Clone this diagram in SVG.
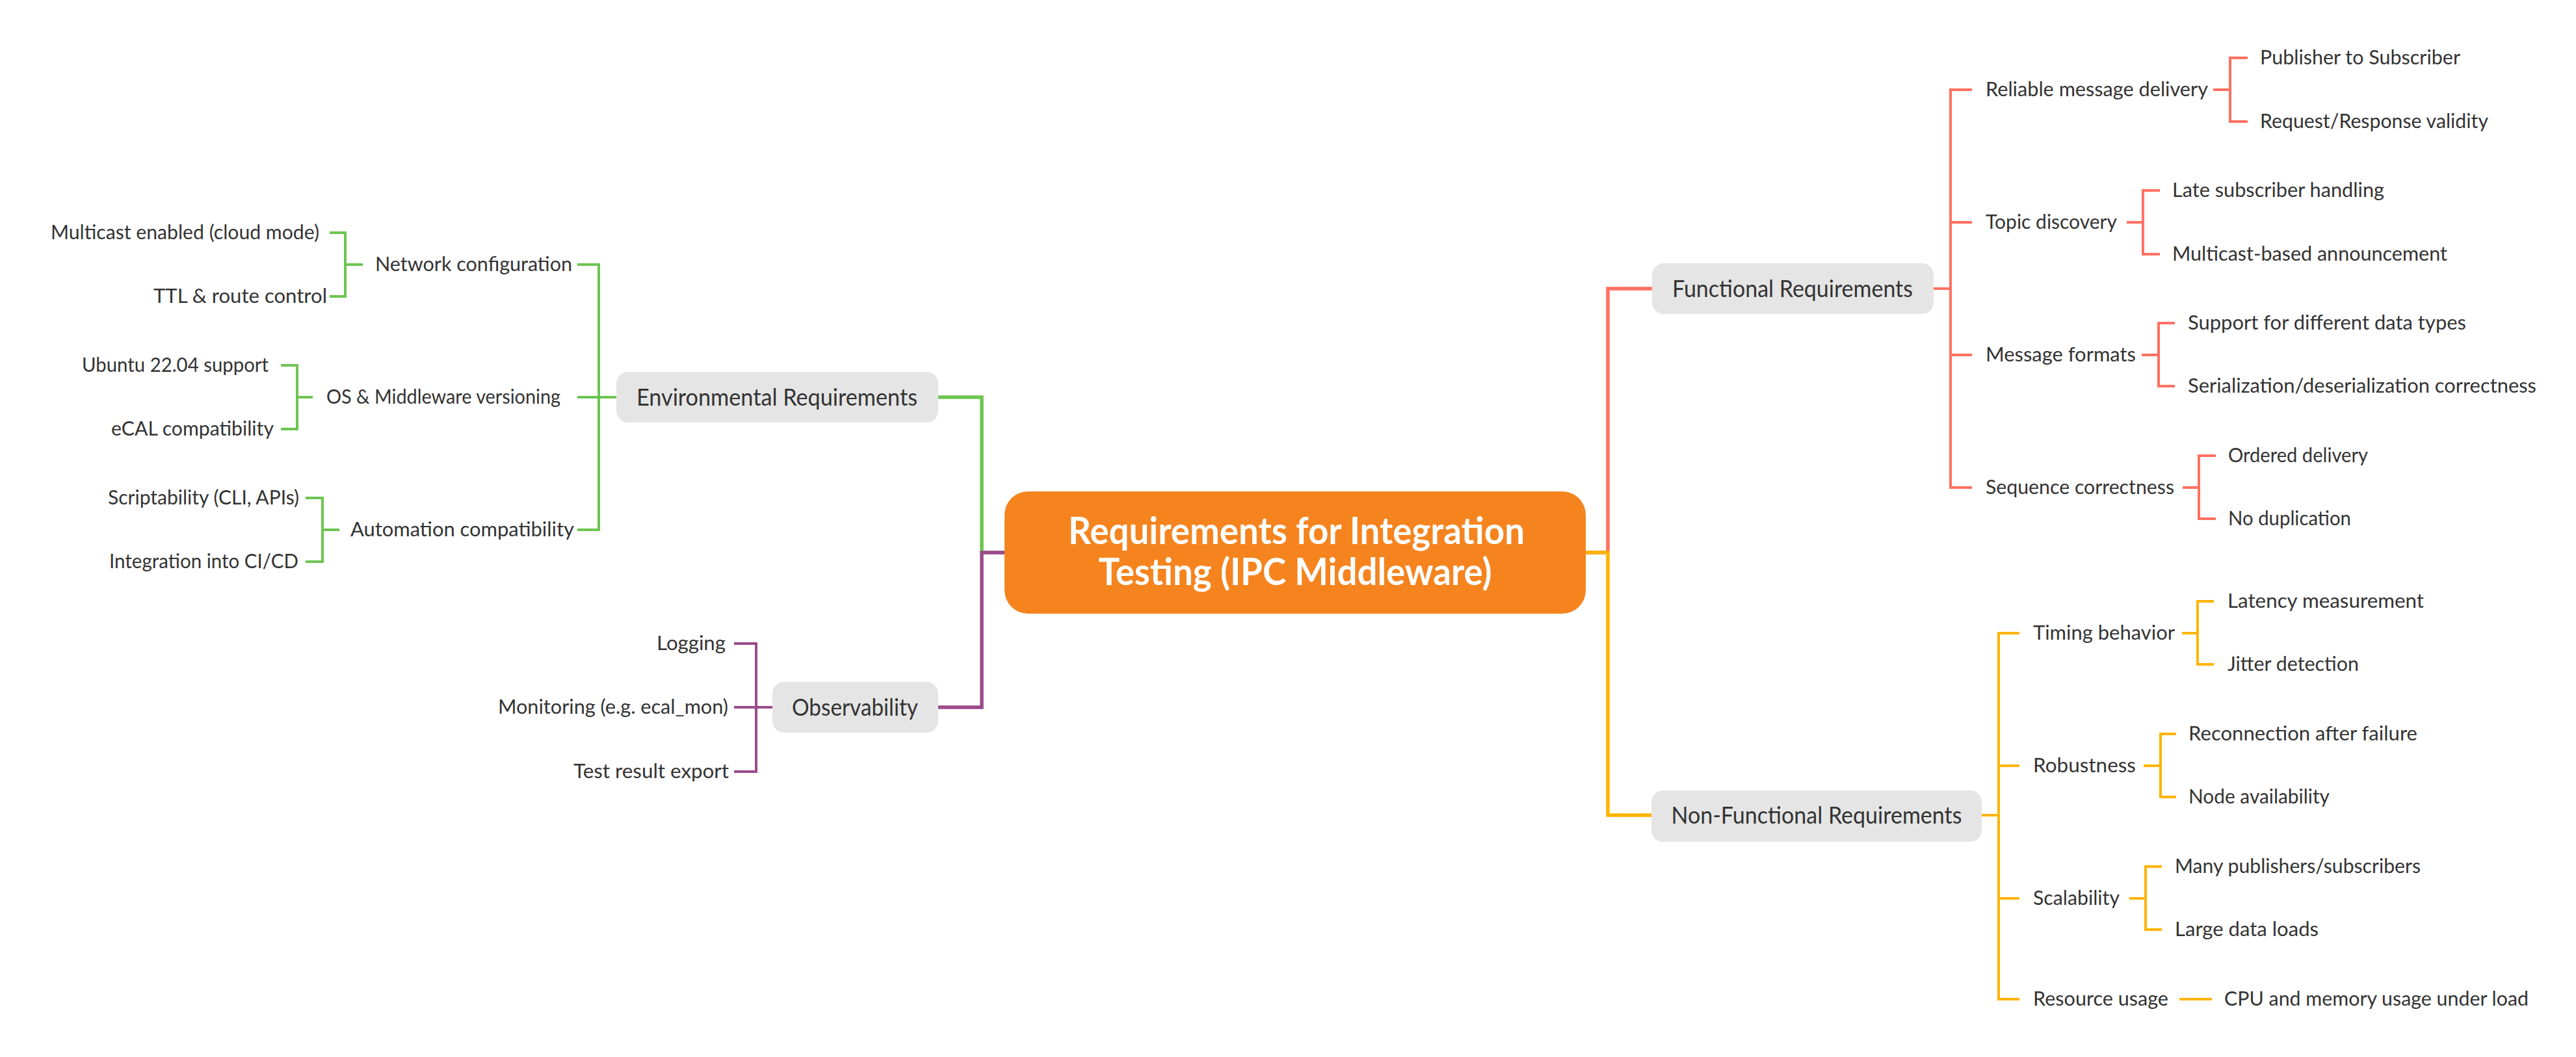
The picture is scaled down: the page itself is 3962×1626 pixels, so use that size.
<svg xmlns="http://www.w3.org/2000/svg" width="3962" height="1626" viewBox="0 0 3962 1626">
<style>
.bg{fill:#ffffff}
.c{fill:none;stroke-linecap:butt;stroke-linejoin:miter}
.main{stroke-width:5.5}
.sub{stroke-width:4}
.red{stroke:#FF7061}
.yel{stroke:#FFB400}
.grn{stroke:#6CC551}
.pur{stroke:#9C4A8B}
.t{font-family:Lato,"Source Sans Pro","Liberation Sans",sans-serif;font-size:31px;fill:#333333}
.l1{font-size:37px;text-anchor:middle}
.box{fill:#E5E5E5}
.root{fill:#F5841F}
.rt{font-family:Lato,"Liberation Sans",sans-serif;font-size:57px;font-weight:bold;fill:#ffffff;text-anchor:middle}
.e{text-anchor:end}
</style>
<rect class="bg" x="0" y="0" width="3962" height="1626"/>
<g id="connectors">
<path class="c main red" d="M2439 850 H2473 V444 H2541"/>
<path class="c main yel" d="M2439 850 H2473 V1254 H2540"/>
<path class="c main grn" d="M1545 850 H1510 V611 H1443"/>
<path class="c main pur" d="M1545 850 H1510 V1088 H1443"/>
<path class="c sub red" d="M2974 444 H3000 M3033 138 H3000 V750 H3033 M3000 342 H3033 M3000 546 H3033"/>
<path class="c sub red" d="M3404 138 H3430 M3457 89 H3430 V187 H3457"/>
<path class="c sub red" d="M3271 342 H3296 M3322 293 H3296 V391 H3322"/>
<path class="c sub red" d="M3294 546 H3320 M3345 497 H3320 V594 H3345"/>
<path class="c sub red" d="M3357 750 H3382 M3408 701 H3382 V798 H3408"/>
<path class="c sub yel" d="M3048 1254 H3074 M3106 974 H3074 V1537 H3106 M3074 1178 H3106 M3074 1382 H3106"/>
<path class="c sub yel" d="M3356 974 H3380 M3405 925 H3380 V1022 H3405"/>
<path class="c sub yel" d="M3297 1178 H3323 M3347 1129 H3323 V1226 H3347"/>
<path class="c sub yel" d="M3275 1382 H3300 M3325 1333 H3300 V1430 H3325"/>
<path class="c sub yel" d="M3352 1537 H3402"/>
<path class="c sub grn" d="M948 611 H888 M888 407 H921 V815 H888"/>
<path class="c sub grn" d="M558 407 H531 M507 358 H531 V456 H507"/>
<path class="c sub grn" d="M481 611 H457 M432 562 H457 V660 H432"/>
<path class="c sub grn" d="M522 815 H496 M470 766 H496 V864 H470"/>
<path class="c sub pur" d="M1188 1088 H1129 M1129 990 H1163 V1187 H1129"/>
</g>
<g id="root">
<rect class="root" x="1545" y="756" width="894" height="188" rx="36"/>
<text class="rt" x="1994" y="837" textLength="702" lengthAdjust="spacingAndGlyphs">Requirements for Integration</text>
<text class="rt" x="1992" y="900" textLength="605" lengthAdjust="spacingAndGlyphs">Testing (IPC Middleware)</text>
</g>
<g id="functional">
<rect class="box" x="2541" y="405" width="433" height="78" rx="18"/>
<text class="t l1" x="2757" y="457" textLength="370" lengthAdjust="spacingAndGlyphs">Functional Requirements</text>
</g>
<g id="f-reliable"><text class="t" x="3054" y="148" textLength="342" lengthAdjust="spacingAndGlyphs">Reliable message delivery</text></g>
<g id="f-pubsub"><text class="t" x="3476" y="99" textLength="308" lengthAdjust="spacingAndGlyphs">Publisher to Subscriber</text></g>
<g id="f-reqresp"><text class="t" x="3476" y="197" textLength="351" lengthAdjust="spacingAndGlyphs">Request/Response validity</text></g>
<g id="f-topic"><text class="t" x="3054" y="352" textLength="202" lengthAdjust="spacingAndGlyphs">Topic discovery</text></g>
<g id="f-late"><text class="t" x="3341" y="303" textLength="326" lengthAdjust="spacingAndGlyphs">Late subscriber handling</text></g>
<g id="f-mcast"><text class="t" x="3341" y="401" textLength="423" lengthAdjust="spacingAndGlyphs">Multicast-based announcement</text></g>
<g id="f-formats"><text class="t" x="3054" y="556" textLength="231" lengthAdjust="spacingAndGlyphs">Message formats</text></g>
<g id="f-types"><text class="t" x="3365" y="507" textLength="428" lengthAdjust="spacingAndGlyphs">Support for different data types</text></g>
<g id="f-serial"><text class="t" x="3365" y="604" textLength="536" lengthAdjust="spacingAndGlyphs">Serialization/deserialization correctness</text></g>
<g id="f-seq"><text class="t" x="3054" y="760" textLength="290" lengthAdjust="spacingAndGlyphs">Sequence correctness</text></g>
<g id="f-ordered"><text class="t" x="3427" y="711" textLength="215" lengthAdjust="spacingAndGlyphs">Ordered delivery</text></g>
<g id="f-dup"><text class="t" x="3427" y="808" textLength="189" lengthAdjust="spacingAndGlyphs">No duplication</text></g>
<g id="nonfunctional">
<rect class="box" x="2540" y="1216" width="508" height="79" rx="18"/>
<text class="t l1" x="2794" y="1267" textLength="447" lengthAdjust="spacingAndGlyphs">Non-Functional Requirements</text>
</g>
<g id="n-timing"><text class="t" x="3127" y="984" textLength="218" lengthAdjust="spacingAndGlyphs">Timing behavior</text></g>
<g id="n-latency"><text class="t" x="3426" y="935" textLength="302" lengthAdjust="spacingAndGlyphs">Latency measurement</text></g>
<g id="n-jitter"><text class="t" x="3426" y="1032" textLength="202" lengthAdjust="spacingAndGlyphs">Jitter detection</text></g>
<g id="n-robust"><text class="t" x="3127" y="1188" textLength="158" lengthAdjust="spacingAndGlyphs">Robustness</text></g>
<g id="n-reconn"><text class="t" x="3366" y="1139" textLength="352" lengthAdjust="spacingAndGlyphs">Reconnection after failure</text></g>
<g id="n-node"><text class="t" x="3366" y="1236" textLength="217" lengthAdjust="spacingAndGlyphs">Node availability</text></g>
<g id="n-scal"><text class="t" x="3127" y="1392" textLength="133" lengthAdjust="spacingAndGlyphs">Scalability</text></g>
<g id="n-many"><text class="t" x="3345" y="1343" textLength="378" lengthAdjust="spacingAndGlyphs">Many publishers/subscribers</text></g>
<g id="n-large"><text class="t" x="3345" y="1440" textLength="221" lengthAdjust="spacingAndGlyphs">Large data loads</text></g>
<g id="n-res"><text class="t" x="3127" y="1547" textLength="208" lengthAdjust="spacingAndGlyphs">Resource usage</text></g>
<g id="n-cpu"><text class="t" x="3421" y="1547" textLength="468" lengthAdjust="spacingAndGlyphs">CPU and memory usage under load</text></g>
<g id="environmental">
<rect class="box" x="948" y="572" width="495" height="78" rx="18"/>
<text class="t l1" x="1195" y="624" textLength="432" lengthAdjust="spacingAndGlyphs">Environmental Requirements</text>
</g>
<g id="e-net"><text class="t e" x="880" y="417" textLength="303" lengthAdjust="spacingAndGlyphs">Network configuration</text></g>
<g id="e-mcast"><text class="t e" x="491" y="368" textLength="413" lengthAdjust="spacingAndGlyphs">Multicast enabled (cloud mode)</text></g>
<g id="e-ttl"><text class="t e" x="503" y="466" textLength="267" lengthAdjust="spacingAndGlyphs">TTL &amp; route control</text></g>
<g id="e-os"><text class="t e" x="862" y="621" textLength="360" lengthAdjust="spacingAndGlyphs">OS &amp; Middleware versioning</text></g>
<g id="e-ubuntu"><text class="t e" x="413" y="572" textLength="287" lengthAdjust="spacingAndGlyphs">Ubuntu 22.04 support</text></g>
<g id="e-ecal"><text class="t e" x="421" y="670" textLength="250" lengthAdjust="spacingAndGlyphs">eCAL compatibility</text></g>
<g id="e-auto"><text class="t e" x="883" y="825" textLength="344" lengthAdjust="spacingAndGlyphs">Automation compatibility</text></g>
<g id="e-script"><text class="t e" x="460" y="776" textLength="294" lengthAdjust="spacingAndGlyphs">Scriptability (CLI, APIs)</text></g>
<g id="e-ci"><text class="t e" x="459" y="874" textLength="291" lengthAdjust="spacingAndGlyphs">Integration into CI/CD</text></g>
<g id="observability">
<rect class="box" x="1188" y="1049" width="255" height="78" rx="18"/>
<text class="t l1" x="1315" y="1101" textLength="194" lengthAdjust="spacingAndGlyphs">Observability</text>
</g>
<g id="o-log"><text class="t e" x="1116" y="1000" textLength="106" lengthAdjust="spacingAndGlyphs">Logging</text></g>
<g id="o-mon"><text class="t e" x="1120" y="1098" textLength="354" lengthAdjust="spacingAndGlyphs">Monitoring (e.g. ecal_mon)</text></g>
<g id="o-test"><text class="t e" x="1121" y="1197" textLength="239" lengthAdjust="spacingAndGlyphs">Test result export</text></g>
</svg>
